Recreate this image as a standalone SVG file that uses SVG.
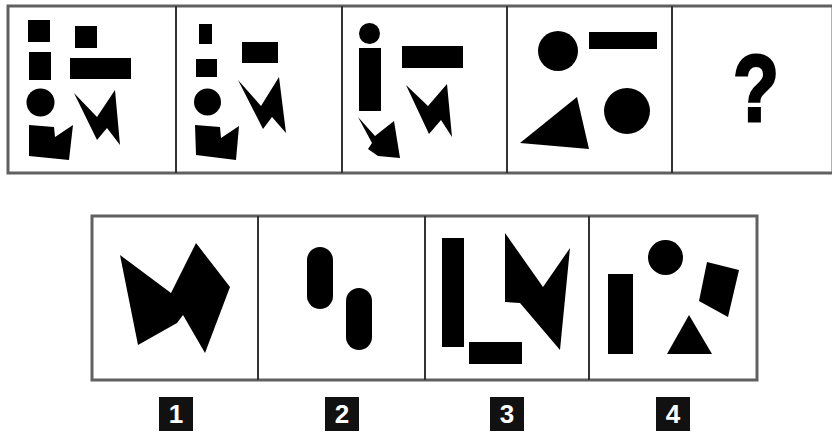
<svg xmlns="http://www.w3.org/2000/svg" width="832" height="437" viewBox="0 0 832 437">
<style>
.frame{fill:none;stroke:#606060;stroke-width:3}
.div{stroke:#333;stroke-width:2}
.s{fill:#000}
.lb{fill:#111}
.lt{fill:#fff;font-family:"Liberation Sans",Arial,sans-serif;font-weight:bold;font-size:26px;text-anchor:middle}
.q{fill:#000;stroke:#000;stroke-width:3;font-family:"Liberation Sans",Arial,sans-serif;font-weight:bold;font-size:94px;text-anchor:middle}
</style>
<rect width="832" height="437" fill="#fff"/>
<g id="connectors"></g>
<g id="top-frame">
<rect class="frame" x="8" y="6" width="825" height="167"/>
<line class="div" x1="176" y1="6" x2="176" y2="173"/>
<line class="div" x1="342" y1="6" x2="342" y2="173"/>
<line class="div" x1="507" y1="6" x2="507" y2="173"/>
<line class="div" x1="672" y1="6" x2="672" y2="173"/>
</g>
<g id="panel1" class="s">
<rect x="28" y="20" width="22" height="22"/>
<rect x="75" y="26" width="22" height="22"/>
<rect x="29" y="52" width="22" height="28"/>
<rect x="70" y="58" width="61" height="21"/>
<circle cx="40.5" cy="102.5" r="14"/>
<polygon points="29,125 54,127 55,137 73,125 69,160 29,156"/>
<polygon points="74,93 97,117 115,90 120,145 107,128 97,140"/>
</g>
<g id="panel2" class="s">
<rect x="199" y="24" width="13" height="20"/>
<rect x="242" y="42" width="36" height="21"/>
<rect x="196" y="59" width="21" height="18"/>
<circle cx="207.5" cy="102" r="13.5"/>
<polygon points="195,125 220,127 221,138 239,126 236,160 196,155"/>
<polygon points="238,80 261,106 279,77 286,133 272,117 263,129"/>
</g>
<g id="panel3" class="s">
<circle cx="369.5" cy="33.5" r="10.5"/>
<rect x="359" y="48" width="22" height="63"/>
<rect x="402" y="46" width="61" height="22"/>
<polygon points="406,85 428,106 447,84 452,137 441,120 429,134"/>
<polygon points="358,117 375,136 394,121 400,158 378,156 368,149 372,143"/>
</g>
<g id="panel4" class="s">
<circle cx="558" cy="51" r="20"/>
<rect x="589" y="32" width="68" height="17"/>
<polygon points="520,143 577,97 589,149"/>
<circle cx="627" cy="111" r="23"/>
</g>
<g id="panel5">
<text class="q" x="756" y="121" transform="translate(756,0) scale(0.8,1) translate(-756,0)">?</text>
</g>
<g id="bottom-frame">
<rect class="frame" x="92" y="216" width="665" height="164"/>
<line class="div" x1="258" y1="216" x2="258" y2="380"/>
<line class="div" x1="425" y1="216" x2="425" y2="380"/>
<line class="div" x1="589" y1="216" x2="589" y2="380"/>
</g>
<g id="option1" class="s">
<polygon points="120,255 171,293 196,243 230,287 205,353 183,315 177,323 138,345"/>
</g>
<g id="option2" class="s">
<rect x="307" y="247" width="26" height="62" rx="13"/>
<rect x="346" y="288" width="26" height="62" rx="13"/>
</g>
<g id="option3" class="s">
<rect x="442" y="238" width="22" height="109"/>
<rect x="469" y="342" width="53" height="22"/>
<polygon points="505,233 543,287 570,248 560,350 520,303 505,302"/>
</g>
<g id="option4" class="s">
<circle cx="665.5" cy="257.5" r="17.5"/>
<rect x="608" y="274" width="25" height="80"/>
<polygon points="707,262 739,270 728,317 699,301"/>
<polygon points="667,354 689,315 712,354"/>
</g>
<g id="label1"><rect class="lb" x="159" y="397" width="34" height="34"/><text class="lt" x="176" y="423">1</text></g>
<g id="label2"><rect class="lb" x="325" y="397" width="34" height="34"/><text class="lt" x="342" y="423">2</text></g>
<g id="label3"><rect class="lb" x="490" y="397" width="34" height="34"/><text class="lt" x="507" y="423">3</text></g>
<g id="label4"><rect class="lb" x="656" y="397" width="34" height="34"/><text class="lt" x="673" y="423">4</text></g>
</svg>
